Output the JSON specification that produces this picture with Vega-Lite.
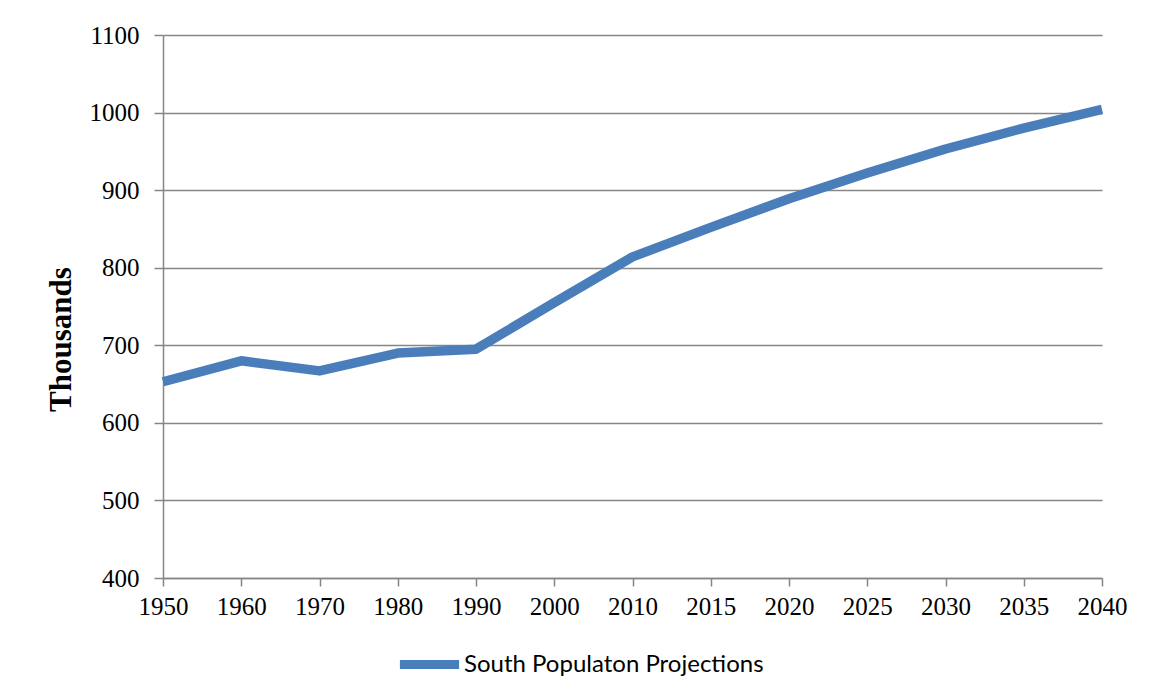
{
  "$schema": "https://vega.github.io/schema/vega-lite/v6.json",
  "autosize": "none",
  "width": 939,
  "height": 543,
  "padding": {"left": 163, "top": 35, "right": 49, "bottom": 122},
  "background": "white",
  "data": {
    "values": [
      {"year": "1950", "pop": 653},
      {"year": "1960", "pop": 680},
      {"year": "1970", "pop": 667},
      {"year": "1980", "pop": 690},
      {"year": "1990", "pop": 695},
      {"year": "2000", "pop": 755},
      {"year": "2010", "pop": 814},
      {"year": "2015", "pop": 852},
      {"year": "2020", "pop": 889},
      {"year": "2025", "pop": 922},
      {"year": "2030", "pop": 953},
      {"year": "2035", "pop": 980},
      {"year": "2040", "pop": 1004}
    ]
  },
  "mark": {"type": "line", "strokeWidth": 9.5, "strokeCap": "butt", "strokeJoin": "round"},
  "encoding": {
    "x": {
      "field": "year", "type": "ordinal", "sort": null,
      "scale": {"type": "point", "padding": 0},
      "axis": {"title": null, "labelAngle": 0, "grid": false, "tickSize": 8, "labelPadding": 8, "labelFontSize": 25}
    },
    "y": {
      "field": "pop", "type": "quantitative",
      "scale": {"domain": [400, 1100], "nice": false, "zero": false},
      "axis": {"title": "Thousands", "format": "d", "values": [400, 500, 600, 700, 800, 900, 1000, 1100], "grid": true, "tickSize": 9, "labelPadding": 15, "labelFontSize": 25, "titleFontSize": 31, "titleFontWeight": "bold", "titleBaseline": "middle", "titleAlign": "center", "titleX": -102, "titleY": 304, "titleAngle": -90}
    },
    "color": {
      "datum": "South Populaton Projections",
      "scale": {"range": ["#4a7ebb"]},
      "legend": {
        "title": null, "orient": "none", "legendX": 232, "legendY": 595,
        "symbolType": "stroke", "symbolSize": 3500, "symbolStrokeWidth": 9,
        "labelFont": "Lato", "labelFontSize": 24, "labelColor": "black", "labelOffset": 0, "labelLimit": 500
      }
    }
  },
  "config": {
    "view": {"stroke": null},
    "axis": {
      "labelFont": "Liberation Serif", "labelColor": "black",
      "titleFont": "Liberation Serif", "titleColor": "black",
      "domainColor": "#868686", "tickColor": "#868686", "gridColor": "#868686",
      "domainWidth": 1.5, "tickWidth": 1.5, "gridWidth": 1.5, "gridOpacity": 1
    }
  }
}
